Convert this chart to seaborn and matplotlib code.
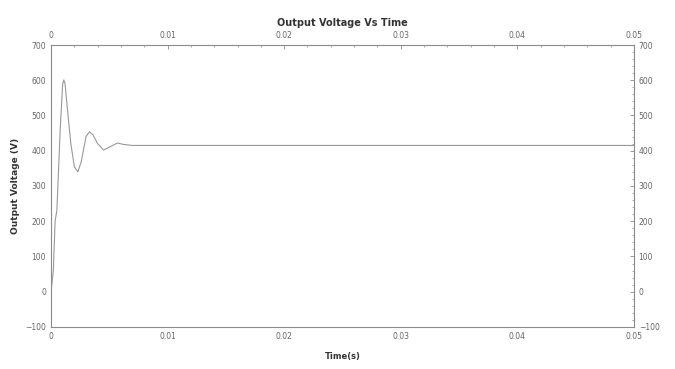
import matplotlib
matplotlib.use("Agg")
import matplotlib.pyplot as plt
import seaborn as sns
import pandas as pd
from matplotlib.ticker import AutoMinorLocator

time_s = [0, 0.0002, 0.00035, 0.0005, 0.0008, 0.001, 0.0011, 0.0012, 0.0014,
          0.0017, 0.002, 0.0023, 0.0026, 0.003, 0.0033, 0.0036, 0.004, 0.0045,
          0.005, 0.0057, 0.0062, 0.007, 0.0085, 0.02, 0.05]
voltage_v = [0, 60, 200, 230, 470, 590, 601, 590, 520, 420, 355, 340, 370, 440,
             454, 445, 420, 402, 410, 422, 418, 415, 415, 415, 415]
x_ticks = [0, 0.01, 0.02, 0.03, 0.04, 0.05]
x_tick_labels = ["0", "0.01", "0.02", "0.03", "0.04", "0.05"]
y_ticks = [-100, 0, 100, 200, 300, 400, 500, 600, 700]

sns.set_style("white")
plt.rcParams['font.family'] = ['DejaVu Sans']

df = pd.DataFrame({"t": time_s, "v": voltage_v})

fig = plt.figure(figsize=(6.75, 3.69), dpi=100)
ax = fig.add_axes([0.0756, 0.114, 0.8634, 0.764])
sns.lineplot(data=df, x="t", y="v", ax=ax, color="#999999", linewidth=0.8)

ax.set_xlim(0, 0.05)
ax.set_ylim(-100, 700)
ax.set_xticks(x_ticks)
ax.set_xticklabels(x_tick_labels)
ax.set_yticks(y_ticks)
ax.xaxis.set_minor_locator(AutoMinorLocator(5))
ax.yaxis.set_minor_locator(AutoMinorLocator(5))
ax.tick_params(axis="both", which="both", direction="in", top=True, right=True,
               labeltop=True, labelright=True, colors="#8a8a8a",
               labelcolor="#666666", labelsize=5.5)
ax.tick_params(which="major", length=3, width=0.6)
ax.tick_params(which="minor", length=1.5, width=0.5)
for s in ax.spines.values():
    s.set_color("#8a8a8a")
    s.set_linewidth(0.8)

ax.set_title("Output Voltage Vs Time", fontsize=7, fontweight="bold", color="#333333", pad=14)
ax.set_xlabel("Time(s)", fontsize=6, fontweight="bold", color="#333333", labelpad=8)
ax.set_ylabel("Output Voltage (V)", fontsize=6.5, fontweight="bold", color="#333333", labelpad=4)

fig.savefig("out.png", dpi=100, facecolor="white")
